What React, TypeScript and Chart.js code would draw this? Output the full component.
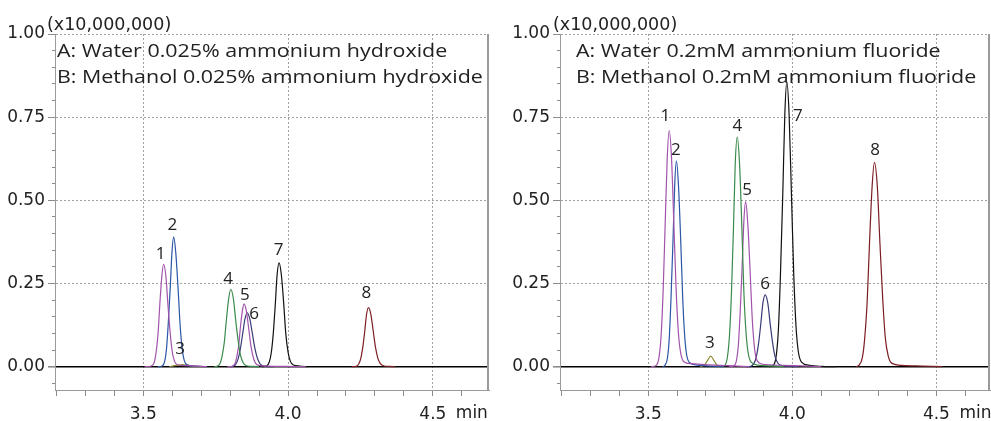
import React, { useEffect, useRef } from 'react';
import { Chart, registerables } from 'chart.js';

Chart.register(...registerables);

type Pt = [number, number];

// ---------- data (retention time in min, intensity in x10,000,000) ----------
// Left panel: A: Water 0.025% ammonium hydroxide / B: Methanol 0.025% ammonium hydroxide
const L_PEAK1: Pt[] = [[3.505,0],[3.528,0.002],[3.538,0.014],[3.544,0.042],[3.551,0.100],[3.557,0.187],[3.564,0.272],[3.570,0.308],[3.578,0.272],[3.585,0.187],[3.593,0.100],[3.600,0.045],[3.608,0.016],[3.618,0.006],[3.650,0.003],[3.700,0.001],[3.720,0]];
const L_PEAK2: Pt[] = [[3.550,0],[3.565,0.002],[3.574,0.017],[3.580,0.053],[3.586,0.127],[3.593,0.237],[3.599,0.344],[3.605,0.390],[3.612,0.344],[3.620,0.237],[3.627,0.127],[3.634,0.055],[3.641,0.020],[3.651,0.006],[3.680,0.002],[3.720,0]];
const L_PEAK3: Pt[] = [[3.590,0],[3.615,0.004],[3.635,0.006],[3.655,0.004],[3.680,0.001],[3.700,0]];
const L_PEAK4: Pt[] = [[3.745,0],[3.754,0.001],[3.765,0.010],[3.772,0.031],[3.780,0.075],[3.787,0.141],[3.795,0.205],[3.802,0.232],[3.811,0.205],[3.819,0.141],[3.828,0.075],[3.836,0.033],[3.845,0.012],[3.856,0.003],[3.880,0.001],[3.900,0]];
const L_PEAK5: Pt[] = [[3.790,0],[3.806,0.001],[3.816,0.008],[3.822,0.026],[3.829,0.061],[3.835,0.115],[3.842,0.167],[3.848,0.189],[3.856,0.167],[3.864,0.115],[3.872,0.061],[3.880,0.027],[3.888,0.010],[3.899,0.004],[3.930,0.002],[3.990,0.001],[4.060,0]];
const L_PEAK6: Pt[] = [[3.800,0],[3.808,0.001],[3.819,0.007],[3.827,0.022],[3.835,0.053],[3.843,0.098],[3.851,0.143],[3.859,0.162],[3.868,0.143],[3.877,0.098],[3.886,0.053],[3.895,0.023],[3.904,0.008],[3.917,0.002],[3.950,0]];
const L_PEAK7: Pt[] = [[3.910,0],[3.926,0.002],[3.935,0.014],[3.942,0.042],[3.949,0.101],[3.956,0.189],[3.962,0.275],[3.969,0.312],[3.977,0.275],[3.985,0.189],[3.992,0.101],[4.000,0.044],[4.008,0.016],[4.019,0.005],[4.040,0.002],[4.070,0]];
const L_PEAK8: Pt[] = [[4.220,0],[4.235,0.001],[4.244,0.008],[4.251,0.024],[4.258,0.058],[4.265,0.108],[4.271,0.157],[4.278,0.178],[4.286,0.157],[4.294,0.108],[4.302,0.058],[4.310,0.026],[4.318,0.010],[4.329,0.003],[4.350,0.001],[4.370,0]];

// Right panel: A: Water 0.2mM ammonium fluoride / B: Methanol 0.2mM ammonium fluoride
const R_PEAK1: Pt[] = [[3.510,0],[3.528,0.004],[3.538,0.031],[3.545,0.096],[3.552,0.231],[3.559,0.431],[3.566,0.626],[3.573,0.710],[3.581,0.626],[3.589,0.431],[3.597,0.231],[3.605,0.100],[3.613,0.040],[3.624,0.015],[3.650,0.009],[3.700,0.006],[3.780,0.003],[3.850,0]];
const R_PEAK2: Pt[] = [[3.550,0],[3.558,0.004],[3.567,0.027],[3.573,0.084],[3.579,0.201],[3.586,0.376],[3.592,0.546],[3.598,0.619],[3.605,0.546],[3.613,0.376],[3.620,0.201],[3.627,0.088],[3.634,0.033],[3.644,0.012],[3.670,0.005],[3.720,0.002],[3.760,0]];
const R_PEAK3: Pt[] = [[3.680,0],[3.695,0.005],[3.706,0.019],[3.717,0.032],[3.728,0.019],[3.739,0.005],[3.755,0]];
const R_PEAK4: Pt[] = [[3.750,0],[3.766,0.004],[3.775,0.030],[3.782,0.093],[3.789,0.224],[3.796,0.419],[3.802,0.609],[3.809,0.690],[3.817,0.609],[3.825,0.419],[3.832,0.224],[3.840,0.097],[3.848,0.036],[3.859,0.012],[3.880,0.005],[3.930,0.002],[3.970,0]];
const R_PEAK5: Pt[] = [[3.780,0],[3.798,0.003],[3.807,0.022],[3.813,0.067],[3.819,0.161],[3.826,0.301],[3.832,0.437],[3.838,0.496],[3.845,0.437],[3.853,0.301],[3.860,0.161],[3.867,0.072],[3.874,0.028],[3.884,0.012],[3.910,0.006],[3.970,0.004],[4.050,0.002],[4.100,0]];
const R_PEAK6: Pt[] = [[3.840,0],[3.856,0.001],[3.867,0.010],[3.875,0.029],[3.883,0.070],[3.891,0.131],[3.898,0.191],[3.906,0.216],[3.915,0.191],[3.923,0.131],[3.932,0.070],[3.940,0.031],[3.949,0.012],[3.960,0.004],[3.990,0.001],[4.020,0]];
const R_PEAK7: Pt[] = [[3.920,0],[3.935,0.005],[3.945,0.038],[3.952,0.116],[3.959,0.279],[3.967,0.520],[3.974,0.756],[3.981,0.857],[3.989,0.756],[3.997,0.520],[4.005,0.279],[4.013,0.120],[4.021,0.045],[4.032,0.014],[4.060,0.004],[4.100,0.001],[4.150,0]];
const R_PEAK8: Pt[] = [[4.220,0],[4.231,0.004],[4.243,0.027],[4.251,0.083],[4.260,0.200],[4.268,0.373],[4.277,0.542],[4.285,0.614],[4.295,0.542],[4.304,0.373],[4.314,0.200],[4.323,0.085],[4.333,0.032],[4.346,0.010],[4.380,0.004],[4.450,0.002],[4.520,0]];

const PEAK_NAMES = ['1', '2', '3', '4', '5', '6', '7', '8'];

// peak-number anchors (time, intensity)
const L_LABEL_T = [3.560, 3.600, 3.627, 3.793, 3.851, 3.883, 3.967, 4.270];
const L_LABEL_V = [0.337, 0.425, 0.052, 0.262, 0.214, 0.157, 0.350, 0.222];
const R_LABEL_T = [3.560, 3.596, 3.714, 3.809, 3.843, 3.906, 4.019, 4.287];
const R_LABEL_V = [0.754, 0.652, 0.070, 0.722, 0.530, 0.247, 0.752, 0.650];

const L_LEGEND = ['A: Water 0.025% ammonium hydroxide', 'B: Methanol 0.025% ammonium hydroxide'];
const R_LEGEND = ['A: Water 0.2mM ammonium fluoride', 'B: Methanol 0.2mM ammonium fluoride'];
const MULTIPLIER = '(x10,000,000)';
const X_UNIT = 'min';

const X_MAJOR = [3.5, 4.0, 4.5];
const X_LABELS = ['3.5', '4.0', '4.5'];
const Y_MAJOR = [0, 0.25, 0.5, 0.75, 1.0];
const Y_LABELS = ['0.00', '0.25', '0.50', '0.75', '1.00'];

// styles
const PEAK_COLORS = ['#a253ac', '#2b55a6', '#8d8a35', '#3a8a4a', '#3b3b78', '#111111', '#7c1d24', '#a253ac'];
const COLOR_ORDER = [0, 1, 2, 3, 7, 4, 5, 6];

const near = (v: number, arr: number[]) => arr.findIndex((m) => Math.abs(v - m) < 1e-6);

function makeConfig(p: {
  peaks: Pt[][];
  lt: number[];
  lv: number[];
  legend: string[];
  xMin: number;
  xMax: number;
  yWidth: number;
  padRight: number;
  legendDx: number;
  multDx: number;
}): any {
  const textPlugin = {
    id: 'panelText',
    afterDraw(chart: any) {
      const { ctx, chartArea: a, scales } = chart;
      const x = scales.x;
      const y = scales.y;
      ctx.save();
      // right frame edge
      ctx.strokeStyle = '#9a9a9a';
      ctx.lineWidth = 2;
      ctx.beginPath();
      ctx.moveTo(a.right - 1, a.top);
      ctx.lineTo(a.right - 1, a.bottom);
      ctx.stroke();
      ctx.fillStyle = '#222';
      ctx.textAlign = 'left';
      ctx.textBaseline = 'alphabetic';
      // multiplier
      ctx.font = '17.5px "DejaVu Sans"';
      ctx.fillText(MULTIPLIER, a.left + p.multDx, 30);
      // conditions legend
      ctx.font = '18px "Open Sans"';
      p.legend.forEach((s, i) => {
        ctx.save();
        ctx.translate(a.left + p.legendDx, 57 + i * 26);
        ctx.scale(1.19, 1);
        ctx.fillText(s, 0, 0);
        ctx.restore();
      });
      // unit
      ctx.font = '17px "DejaVu Sans"';
      ctx.fillText(X_UNIT, x.getPixelForValue(4.5) + 23, 418);
      // peak numbers
      ctx.font = '17px "Open Sans"';
      ctx.textAlign = 'center';
      ctx.textBaseline = 'middle';
      PEAK_NAMES.forEach((n, i) => {
        ctx.fillText(n, x.getPixelForValue(p.lt[i]), y.getPixelForValue(p.lv[i]));
      });
      ctx.restore();
    },
  };

  return {
    type: 'line',
    data: {
      datasets: p.peaks.map((pk, i) => ({
        label: 'peak ' + PEAK_NAMES[i],
        data: pk.map(([t, v]) => ({ x: t, y: v })),
        borderColor: PEAK_COLORS[COLOR_ORDER[i]],
        borderWidth: 1.2,
        pointRadius: 0,
        fill: false,
        cubicInterpolationMode: 'monotone',
      })),
    },
    options: {
      responsive: false,
      animation: false,
      layout: { padding: { top: 34, right: p.padRight, left: 0, bottom: 0 } },
      plugins: { legend: { display: false }, tooltip: { enabled: false } },
      scales: {
        x: {
          type: 'linear',
          min: p.xMin,
          max: p.xMax,
          afterFit: (s: any) => { s.height = 31; },
          ticks: {
            stepSize: 0.1,
            autoSkip: false,
            includeBounds: false,
            maxRotation: 0,
            padding: 8,
            color: '#222',
            font: { family: 'DejaVu Sans', size: 17 },
            callback: (v: number) => {
              const k = near(v, X_MAJOR);
              return k >= 0 ? X_LABELS[k] : '';
            },
          },
          grid: {
            color: (c: any) => (c.tick && near(c.tick.value, X_MAJOR) >= 0 ? '#a0a0a0' : 'rgba(0,0,0,0)'),
            lineWidth: 1,
            tickColor: '#8a8a8a',
            tickLength: 6,
          },
          border: { display: true, color: '#9a9a9a', width: 1, dash: [2, 2] },
        },
        y: {
          type: 'linear',
          min: -0.07,
          max: 1.0,
          afterFit: (s: any) => { s.width = p.yWidth; },
          ticks: {
            stepSize: 0.05,
            autoSkip: false,
            includeBounds: false,
            padding: 3,
            color: '#222',
            font: { family: 'DejaVu Sans', size: 17 },
            callback: (v: number) => {
              const k = near(v, Y_MAJOR);
              return k >= 0 ? Y_LABELS[k] : '';
            },
          },
          grid: {
            color: (c: any) => {
              if (!c.tick) return 'rgba(0,0,0,0)';
              const v = c.tick.value;
              if (Math.abs(v) < 1e-6) return '#000';
              return near(v, Y_MAJOR) >= 0 ? '#a0a0a0' : 'rgba(0,0,0,0)';
            },
            lineWidth: (c: any) => (c.tick && Math.abs(c.tick.value) < 1e-6 ? 1.6 : 1),
            tickColor: '#8a8a8a',
            tickLength: 7,
            tickBorderDash: (c: any) => (c.tick && near(c.tick.value, Y_MAJOR) >= 0 ? [] : [0, 4, 10, 0]),
          },
          border: {
            display: true,
            color: '#9a9a9a',
            width: 1,
            dash: (c: any) => (c.tick && Math.abs(c.tick.value) < 1e-6 ? [] : [2, 2]),
          },
        },
      },
    },
    plugins: [textPlugin],
  };
}

function Panel(props: { left: number; width: number; cfg: any }) {
  const ref = useRef<HTMLCanvasElement>(null);
  useEffect(() => {
    const chart = new Chart(ref.current as HTMLCanvasElement, props.cfg);
    return () => chart.destroy();
  }, []);
  return (
    <div style={{ position: 'absolute', left: props.left, top: 0, width: props.width, height: 421 }}>
      <canvas ref={ref} width={props.width} height={421} style={{ width: props.width, height: 421, display: 'block' }} />
    </div>
  );
}

export default function App() {
  const leftCfg = makeConfig({
    peaks: [L_PEAK1, L_PEAK2, L_PEAK3, L_PEAK4, L_PEAK5, L_PEAK6, L_PEAK7, L_PEAK8],
    lt: L_LABEL_T,
    lv: L_LABEL_V,
    legend: L_LEGEND,
    xMin: 3.195,
    xMax: 4.694,
    yWidth: 55,
    padRight: 6,
    legendDx: 2,
    multDx: -8,
  });
  const rightCfg = makeConfig({
    peaks: [R_PEAK1, R_PEAK2, R_PEAK3, R_PEAK4, R_PEAK5, R_PEAK6, R_PEAK7, R_PEAK8],
    lt: R_LABEL_T,
    lv: R_LABEL_V,
    legend: R_LEGEND,
    xMin: 3.194,
    xMax: 4.686,
    yWidth: 65,
    padRight: 1,
    legendDx: 16,
    multDx: -7,
  });
  return (
    <div>
      <Panel left={0} width={495} cfg={leftCfg} />
      <Panel left={495} width={496} cfg={rightCfg} />
    </div>
  );
}
